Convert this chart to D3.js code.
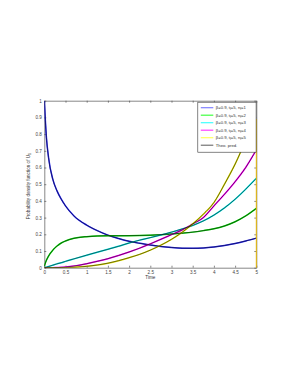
<!DOCTYPE html>
<html>
<head>
<meta charset="utf-8">
<script src="https://cdn.jsdelivr.net/npm/d3@7"></script>
<style>
  body { margin: 0; background: #fff; }
  svg { display: block; font-family: "Liberation Sans", Arial, sans-serif; }
  .axis path, .axis line { stroke: #555; stroke-width: 0.7; }
  .axis text { fill: #444; font-size: 4.6px; }
</style>
</head>
<body>
<div id="chart"></div>
<script>
var svgWidth = 291;
var svgHeight = 376;

var margin = { top: 100.7, left: 44.3 };
var width = 212;
var height = 167;

// time grid (x values)
var times = [0, 0.05, 0.1, 0.2, 0.3, 0.4, 0.5, 0.7, 1.0, 1.25, 1.5, 1.75, 2.0,
  2.25, 2.5, 2.75, 3.0, 3.25, 3.5, 3.75, 4.0, 4.25, 4.5, 4.75, 5.0];

// density for n_f = 1..5
var n1 = [1.0, 0.78, 0.66, 0.53, 0.46, 0.41, 0.37, 0.31, 0.255, 0.222, 0.195, 0.175, 0.158,
  0.146, 0.136, 0.127, 0.121, 0.117, 0.116, 0.118, 0.124, 0.133, 0.145, 0.16, 0.177];
var n2 = [0.01, 0.045, 0.07, 0.105, 0.13, 0.148, 0.16, 0.176, 0.186, 0.19, 0.191, 0.191, 0.192,
  0.193, 0.195, 0.198, 0.202, 0.207, 0.213, 0.222, 0.233, 0.25, 0.275, 0.31, 0.355];
var n3 = [0, 0.003, 0.007, 0.015, 0.023, 0.03, 0.038, 0.053, 0.075, 0.093, 0.11, 0.128, 0.148,
  0.165, 0.18, 0.196, 0.213, 0.232, 0.253, 0.28, 0.315, 0.358, 0.41, 0.47, 0.535];
var n4 = [0, 0, 0, 0, 0.001, 0.002, 0.004, 0.01, 0.024, 0.038, 0.054, 0.073, 0.094,
  0.117, 0.143, 0.17, 0.198, 0.226, 0.262, 0.3, 0.37, 0.44, 0.515, 0.6, 0.705];
var n5 = [0, 0, 0, 0, 0, 0, 0, 0.002, 0.008, 0.016, 0.027, 0.042, 0.06,
  0.08, 0.105, 0.135, 0.17, 0.212, 0.262, 0.32, 0.39, 0.5, 0.62, 0.76, 0.89];

var seriesNames = ["1", "2", "3", "4", "5"];
var seriesValues = [n1, n2, n3, n4, n5];
var seriesColors = ["#2020ff", "#00e000", "#00e8e8", "#ff00ff", "#eeee00"];
var legendColors = ["#8080ff", "#40ff40", "#40ffff", "#ff40ff", "#ffff60"];

var xTicks = [0, 0.5, 1, 1.5, 2, 2.5, 3, 3.5, 4, 4.5, 5];
var yTicks = [0, 0.1, 0.2, 0.3, 0.4, 0.5, 0.6, 0.7, 0.8, 0.9, 1];

var svg = d3.select("#chart")
  .append("svg")
  .attr("width", svgWidth)
  .attr("height", svgHeight);

var chartGroup = svg.append("g")
  .attr("transform", `translate(${margin.left}, ${margin.top})`);

var xScale = d3.scaleLinear().domain([0, 5]).range([0, width]);
var yScale = d3.scaleLinear().domain([0, 1]).range([height, 0]);

// axes, MATLAB style ticks inside on all four sides
chartGroup.append("g")
  .attr("class", "axis")
  .attr("transform", `translate(0, ${height})`)
  .call(d3.axisBottom(xScale).tickValues(xTicks).tickFormat(d3.format("")).tickSizeInner(-2).tickSizeOuter(0).tickPadding(3));

chartGroup.append("g")
  .attr("class", "axis")
  .call(d3.axisLeft(yScale).tickValues(yTicks).tickFormat(d3.format("")).tickSizeInner(-2).tickSizeOuter(0).tickPadding(2.5));

chartGroup.append("g")
  .attr("class", "axis")
  .call(d3.axisTop(xScale).tickValues(xTicks).tickFormat("").tickSizeInner(-2).tickSizeOuter(0));

chartGroup.append("g")
  .attr("class", "axis")
  .attr("transform", `translate(${width}, 0)`)
  .call(d3.axisRight(yScale).tickValues(yTicks).tickFormat("").tickSizeInner(-2).tickSizeOuter(0));

// clip to the axes box
chartGroup.append("clipPath").attr("id", "plotClip")
  .append("rect").attr("width", width).attr("height", height);

var plot = chartGroup.append("g").attr("clip-path", "url(#plotClip)");

var line = d3.line()
  .x(d => xScale(d[0]))
  .y(d => yScale(d[1]))
  .curve(d3.curveMonotoneX);

// simulated histograms (coloured)
seriesValues.forEach(function(vals, i) {
  var pts = times.map((t, j) => [t, vals[j]]);
  plot.append("path")
    .attr("d", line(pts))
    .attr("fill", "none")
    .attr("stroke", seriesColors[i])
    .attr("stroke-width", 1.5);
});

// theoretical predictions (black)
seriesValues.forEach(function(vals) {
  var pts = times.map((t, j) => [t, vals[j]]);
  plot.append("path")
    .attr("d", line(pts))
    .attr("fill", "none")
    .attr("stroke", "#111")
    .attr("stroke-width", 0.6);
});

// last histogram drops to zero at the end of the window
chartGroup.append("line")
  .attr("x1", xScale(5)).attr("x2", xScale(5))
  .attr("y1", yScale(n5[n5.length - 1])).attr("y2", yScale(0))
  .attr("stroke", "#e8b800")
  .attr("stroke-width", 1);

// axis labels
chartGroup.append("text")
  .attr("x", width / 2)
  .attr("y", height + 11)
  .attr("text-anchor", "middle")
  .attr("font-size", "4.6px")
  .attr("fill", "#333")
  .text("Time");

var yLabel = chartGroup.append("text")
  .attr("transform", `translate(-14.5, ${height / 2 + 2}) rotate(-90)`)
  .attr("text-anchor", "middle")
  .attr("font-size", "4.6px")
  .attr("fill", "#333");
yLabel.append("tspan").text("Probability density function of U");
yLabel.append("tspan").attr("font-size", "3.4px").attr("dy", 1.2).text("1");

// legend
var legend = chartGroup.append("g")
  .attr("transform", `translate(${width - 58.5}, 1.5)`);

legend.append("rect")
  .attr("width", 58.3)
  .attr("height", 50)
  .attr("fill", "#fff")
  .attr("stroke", "#333")
  .attr("stroke-width", 0.6);

var legendLabels = seriesNames.concat(["theo"]);
legendLabels.forEach(function(name, i) {
  var yy = 5.5 + i * 7.5;
  legend.append("line")
    .attr("x1", 3).attr("x2", 15.5)
    .attr("y1", yy).attr("y2", yy)
    .attr("stroke", i < 5 ? legendColors[i] : "#111")
    .attr("stroke-width", i < 5 ? 1.2 : 0.7);
  var txt = legend.append("text")
    .attr("x", 18)
    .attr("y", yy + 1.5)
    .attr("font-size", "4.2px")
    .attr("fill", "#333");
  if (i < 5) {
    txt.append("tspan").text("\u03b2=0.9, t");
    txt.append("tspan").attr("font-size", "3px").attr("dy", 1).text("f");
    txt.append("tspan").attr("dy", -1).text("=5, n");
    txt.append("tspan").attr("font-size", "3px").attr("dy", 1).text("f");
    txt.append("tspan").attr("dy", -1).text("=" + name);
  } else {
    txt.text("Theo. pred.");
  }
});
</script>
</body>
</html>
